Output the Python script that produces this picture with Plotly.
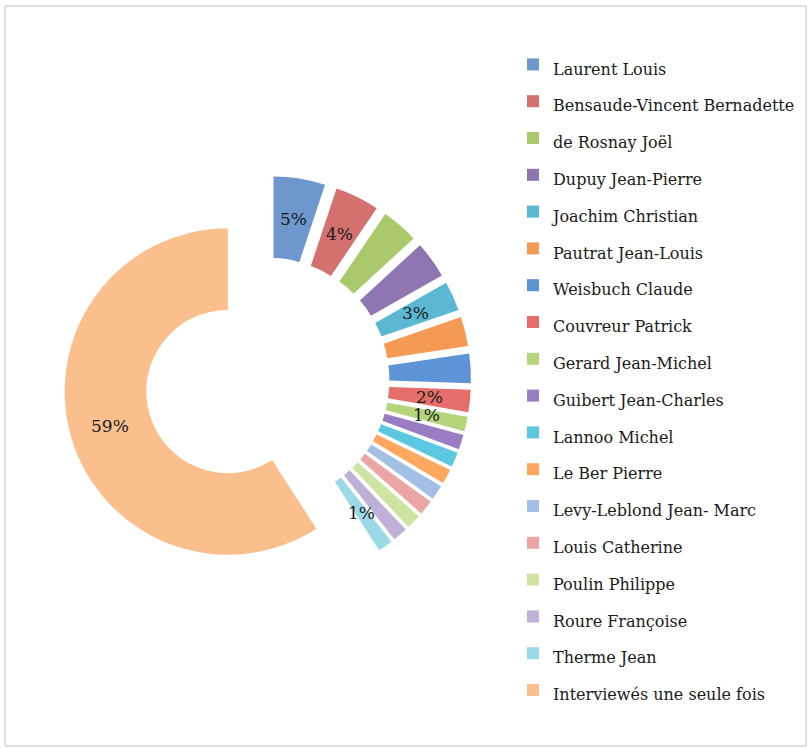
import math
import plotly.graph_objects as go

names = [
    "Laurent Louis",
    "Bensaude-Vincent Bernadette",
    "de Rosnay Joël",
    "Dupuy Jean-Pierre",
    "Joachim Christian",
    "Pautrat Jean-Louis",
    "Weisbuch Claude",
    "Couvreur Patrick",
    "Gerard Jean-Michel",
    "Guibert Jean-Charles",
    "Lannoo Michel",
    "Le Ber Pierre",
    "Levy-Leblond Jean- Marc",
    "Louis Catherine",
    "Poulin Philippe",
    "Roure Françoise",
    "Therme Jean",
    "Interviewés une seule fois",
]
counts = [7, 6, 5, 5, 4, 4, 4, 3, 2, 2, 2, 2, 2, 2, 2, 2, 2, 81]
# which slices carry a visible percentage label
show_label = [1, 1, 0, 0, 1, 0, 0, 1, 1, 0, 0, 0, 0, 0, 0, 0, 1, 1]

colors = [
    "#6d97cd", "#d4716e", "#a9c96c", "#8f76b2", "#5cb8d2", "#f59a55",
    "#5e93d6", "#e56e6b", "#b5d57a", "#9a7dc2", "#5cc7e0", "#ffa65f",
    "#a3bfe6", "#eba5a4", "#cfe3a3", "#bfb0d8", "#9bd8e8", "#fbbf8e",
]

W, H = 808, 749
SERIF = "DejaVu Serif, Liberation Serif, serif"

# pie geometry (pixels)
CX, CY, RFULL = 267, 380, 204
PULL = 0.25
HOLE = 0.5

legend_labels = ['<span style="font-size:16px">%s</span>' % n for n in names]

fig = go.Figure(go.Pie(
    labels=legend_labels,
    values=counts,
    sort=False,
    direction="clockwise",
    rotation=0,
    hole=HOLE,
    pull=[PULL] * len(counts),
    marker=dict(colors=colors, line=dict(width=0)),
    textinfo="none",
    domain=dict(x=[(CX - RFULL) / W, (CX + RFULL) / W],
                y=[1 - (CY + RFULL) / H, 1 - (CY - RFULL) / H]),
    hoverinfo="label+value+percent",
))

# percentage labels placed at the middle of each (pulled) ring segment
total = sum(counts)
R = RFULL / (1 + PULL)
annotations = []
cum = 0
for v, s in zip(counts, show_label):
    mid = (cum + v / 2) / total * 2 * math.pi
    cum += v
    if not s:
        continue
    dist = PULL * R + R * (1 + HOLE) / 2
    px = CX + dist * math.sin(mid)
    py = CY - dist * math.cos(mid)
    annotations.append(dict(
        x=px / W, y=1 - py / H, xref="paper", yref="paper",
        text="%d%%" % round(100 * v / total), showarrow=False,
        font=dict(family=SERIF, size=17, color="#1a1a1a"),
        xanchor="center", yanchor="middle",
    ))

fig.update_layout(
    width=W,
    height=H,
    margin=dict(l=0, r=0, t=0, b=0),
    paper_bgcolor="white",
    plot_bgcolor="white",
    showlegend=True,
    annotations=annotations,
    legend=dict(
        x=(553 - 40) / W,
        xanchor="left",
        y=1 - 41 / H,
        yanchor="top",
        font=dict(family=SERIF, size=26, color="#1a1a1a"),
        bgcolor="rgba(0,0,0,0)",
        traceorder="normal",
    ),
    shapes=[dict(
        type="rect", xref="paper", yref="paper",
        x0=5 / W, x1=806 / W, y0=1 - 746 / H, y1=1 - 6 / H,
        line=dict(color="#bdbdbd", width=1),
        fillcolor="rgba(0,0,0,0)",
        layer="below",
    )],
)

fig.write_html("out.html", config={"displayModeBar": False},
               post_script="document.body.style.margin='0px';")
